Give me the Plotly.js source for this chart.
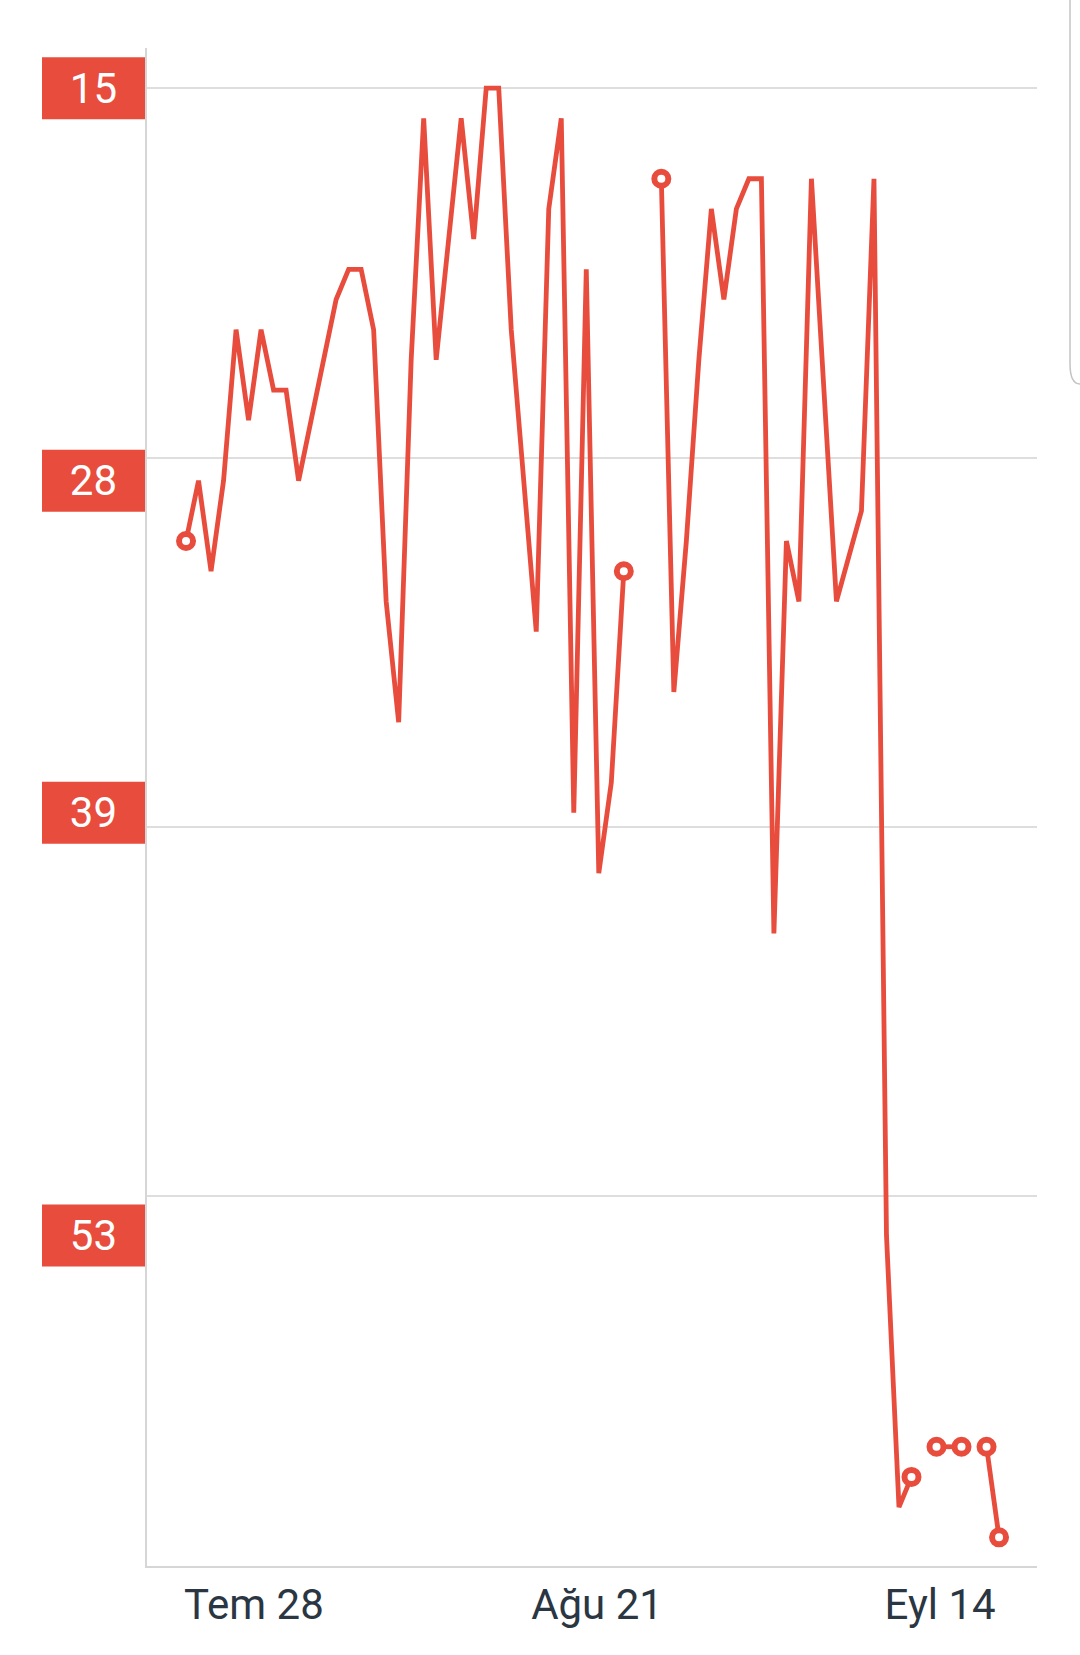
<!DOCTYPE html>
<html>
<head>
<meta charset="utf-8">
<script src="https://cdn.plot.ly/plotly-3.0.1.min.js"></script>
<style>
  html, body { margin: 0; padding: 0; background: #ffffff; }
  #chart { width: 1080px; height: 1655px; }
</style>
</head>
<body>
<div id="chart"></div>
<script>
// Sample times
const times = [
  '2019-07-23 06:00','2019-07-24 03:00','2019-07-25 00:00','2019-07-25 21:00','2019-07-26 18:00',
  '2019-07-27 15:00','2019-07-28 12:00','2019-07-29 09:00','2019-07-30 06:00','2019-07-31 03:00',
  '2019-08-01 00:00','2019-08-01 21:00','2019-08-02 18:00','2019-08-03 15:00','2019-08-04 12:00',
  '2019-08-05 09:00','2019-08-06 06:00','2019-08-07 03:00','2019-08-08 00:00','2019-08-08 21:00',
  '2019-08-09 18:00','2019-08-10 15:00','2019-08-11 12:00','2019-08-12 09:00','2019-08-13 06:00',
  '2019-08-14 03:00','2019-08-15 00:00','2019-08-15 21:00','2019-08-16 18:00','2019-08-17 15:00',
  '2019-08-18 12:00','2019-08-19 09:00','2019-08-20 06:00','2019-08-21 03:00','2019-08-22 00:00',
  '2019-08-22 21:00','2019-08-23 18:00','2019-08-24 15:00','2019-08-25 12:00','2019-08-26 09:00',
  '2019-08-27 06:00','2019-08-28 03:00','2019-08-29 00:00','2019-08-29 21:00','2019-08-30 18:00',
  '2019-08-31 15:00','2019-09-01 12:00','2019-09-02 09:00','2019-09-03 06:00','2019-09-04 03:00',
  '2019-09-05 00:00','2019-09-05 21:00','2019-09-06 18:00','2019-09-07 15:00','2019-09-08 12:00',
  '2019-09-09 09:00','2019-09-10 06:00','2019-09-11 03:00','2019-09-12 00:00','2019-09-12 21:00',
  '2019-09-13 18:00','2019-09-14 15:00','2019-09-15 12:00','2019-09-16 09:00','2019-09-17 06:00',
  '2019-09-18 03:00'
];

// Rank values (null = no data)
const rank = [
  30, 28, 31, 28, 23,
  26, 23, 25, 25, 28,
  26, 24, 22, 21, 21,
  23, 32, 36, 24, 16,
  24, 20, 16, 20, 15,
  15, 23, 28, 33, 19,
  16, 39, 21, 41, 38,
  31, null, null, 18, 35,
  30, 24, 19, 22, 19,
  18, 18, 43, 30, 32,
  18, 25, 32, 30.5, 29,
  18, 53, 62, 61, null,
  60, 60, 60, null, 60,
  63
];

// Axis ticks
const xTickDates = ['2019-07-28', '2019-08-21', '2019-09-14'];
const xTickLabels = ['Tem 28', 'Ağu 21', 'Eyl 14'];
const yLabelVals = [15, 28, 39, 53];
const yLabelText = ['15', '28', '39', '53'];
const yGridVals = [15, 27.24, 39.48, 51.71];
const yRange = [63.95, 13.67];

const RED = '#e84c3d';

// markers only on segment end points
const markerSizes = rank.map((v, i) => {
  if (v === null) return 0;
  const prev = i > 0 ? rank[i - 1] : null;
  const next = i < rank.length - 1 ? rank[i + 1] : null;
  return (prev === null || next === null) ? 14 : 0;
});

const trace = {
  type: 'scatter',
  mode: 'lines+markers',
  x: times,
  y: rank,
  connectgaps: false,
  line: { color: RED, width: 4.8, shape: 'linear' },
  marker: {
    symbol: 'circle',
    size: markerSizes,
    color: '#ffffff',
    opacity: 1,
    line: { color: RED, width: 6 }
  },
  hoverinfo: 'x+y'
};

// empty trace so the label axis is drawn
const labelTrace = {
  type: 'scatter', mode: 'markers', x: [], y: [], yaxis: 'y2',
  hoverinfo: 'skip', showlegend: false
};

const shapes = yLabelVals.map(v => ({
  type: 'rect',
  layer: 'below',
  xref: 'paper', yref: 'y',
  xsizemode: 'pixel', xanchor: 0, x0: -105, x1: 0,
  ysizemode: 'pixel', yanchor: v, y0: -31, y1: 31,
  fillcolor: RED,
  line: { width: 0 }
}));

// faint scroll handle at the right edge
shapes.push({
  type: 'path',
  xref: 'paper', yref: 'paper',
  path: 'M 1.0371,1.04 L 1.0371,0.792 Q 1.0371,0.7787 1.0483,0.7787',
  line: { color: '#c4c4c4', width: 1.5 }
});

const layout = {
  width: 1080,
  height: 1655,
  margin: { l: 147, r: 43, t: 48, b: 89, pad: 0 },
  paper_bgcolor: '#ffffff',
  plot_bgcolor: '#ffffff',
  showlegend: false,
  font: { family: 'Roboto, sans-serif' },
  xaxis: {
    type: 'date',
    range: ['2019-07-20 12:29', '2019-09-20 18:43'],
    tickmode: 'array',
    tickvals: xTickDates,
    ticktext: xTickLabels,
    ticks: '',
    showgrid: false,
    zeroline: false,
    showline: true,
    linecolor: '#d6d6d6',
    linewidth: 2,
    ticklabelstandoff: 1,
    tickfont: { family: 'Roboto, sans-serif', size: 42, color: '#2b3643' },
    fixedrange: true
  },
  yaxis: {
    range: yRange,
    tickmode: 'array',
    tickvals: yGridVals,
    showticklabels: false,
    ticks: '',
    showgrid: true,
    gridcolor: '#dedede',
    gridwidth: 2,
    zeroline: false,
    showline: true,
    linecolor: '#d6d6d6',
    linewidth: 2,
    fixedrange: true
  },
  yaxis2: {
    overlaying: 'y',
    side: 'left',
    anchor: 'x',
    range: yRange,
    tickmode: 'array',
    tickvals: yLabelVals,
    ticktext: yLabelText,
    ticks: '',
    showgrid: false,
    zeroline: false,
    showline: false,
    ticklabelstandoff: 29,
    tickfont: { family: 'Roboto, sans-serif', size: 42, color: '#ffffff' },
    fixedrange: true
  },
  shapes: shapes
};

Plotly.newPlot('chart', [trace, labelTrace], layout, { displayModeBar: false, staticPlot: true });
</script>
</body>
</html>
